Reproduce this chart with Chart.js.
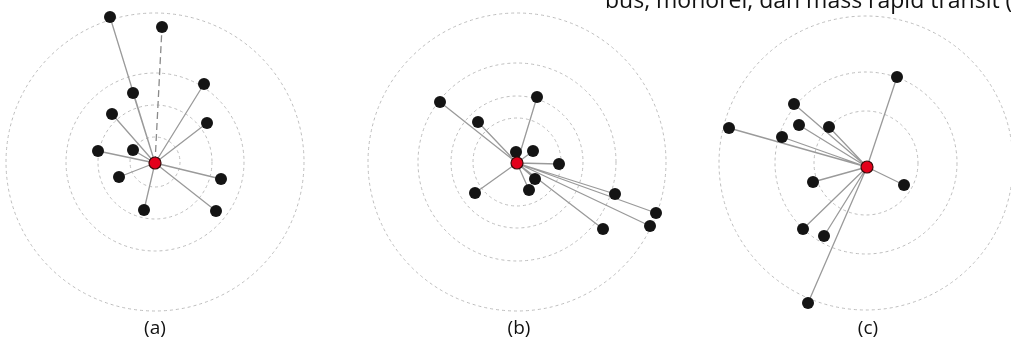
<!DOCTYPE html>
<html>
<head>
<meta charset="utf-8">
<script src="https://cdn.jsdelivr.net/npm/chart.js@4.4.1/dist/chart.umd.min.js"></script>
<style>
  html, body { margin: 0; padding: 0; background: #fff; }
  #wrap { position: relative; width: 1011px; height: 343px; overflow: hidden; }
  .lbl { position: absolute; font-family: "Open Sans", "Liberation Sans", sans-serif; color: #111; white-space: nowrap; }
  .sub { font-size: 19px; top: 314px; transform: translateX(-50%); }
  #top { font-size: 23px; left: 605px; top: -17px; }
</style>
</head>
<body>
<div id="wrap">
  <canvas id="c"></canvas>
  <div id="top" class="lbl">bus, monorel, dan mass rapid transit (</div>
  <div class="lbl sub" style="left:155px">(a)</div>
  <div class="lbl sub" style="left:519px">(b)</div>
  <div class="lbl sub" style="left:868px">(c)</div>
</div>
<script>
// centre node (red) of each panel
centerX = [155, 517, 867]
centerY = [163, 163, 167]

// dotted rings, centre + radii
ringX = [155, 517, 866]
ringY = [162, 162, 163]
ringR = [[149, 89, 57, 25], [149, 99, 66, 44], [147, 91, 52]]

// black nodes, panel (a)
ax = [110, 162, 204, 133, 112, 207, 98, 133, 119, 221, 144, 216]
ay = [17, 27, 84, 93, 114, 123, 151, 150, 177, 179, 210, 211]
// panel (b)
bx = [440, 537, 478, 516, 533, 559, 535, 529, 475, 615, 656, 650, 603]
by = [102, 97, 122, 152, 151, 164, 179, 190, 193, 194, 213, 226, 229]
// panel (c)
cx = [897, 794, 799, 829, 729, 782, 813, 904, 803, 824, 808]
cy = [77, 104, 125, 127, 128, 137, 182, 185, 229, 236, 303]

// spoke drawn dashed in panel (a)
dashedA = [1]

px = [ax, bx, cx]
py = [ay, by, cy]

datasets = []
for (var p = 0; p < 3; p++) {
  var solid = [], dashed = [], nodes = []
  for (var i = 0; i < px[p].length; i++) {
    var seg = (p == 0 && dashedA.indexOf(i) >= 0) ? dashed : solid
    seg.push({x: centerX[p], y: centerY[p]}, {x: px[p][i], y: py[p][i]}, {x: null, y: null})
    nodes.push({x: px[p][i], y: py[p][i]})
  }
  datasets.push({data: solid, showLine: true, spanGaps: false, borderColor: '#9a9a9a', borderWidth: 1.3, pointRadius: 0, order: 3})
  if (dashed.length)
    datasets.push({data: dashed, showLine: true, spanGaps: false, borderColor: '#8a8a8a', borderWidth: 1.3, borderDash: [7, 4], pointRadius: 0, order: 3})
  datasets.push({data: nodes, showLine: false, pointRadius: 6, pointBackgroundColor: '#141414', pointBorderColor: '#141414', pointBorderWidth: 0, order: 2})
  datasets.push({data: [{x: centerX[p], y: centerY[p]}], showLine: false, pointRadius: 6, pointBackgroundColor: '#e3001b', pointBorderColor: '#3a0a0a', pointBorderWidth: 1.2, order: 1})
}

rings = {
  id: 'rings',
  beforeDatasetsDraw(chart) {
    var c = chart.ctx, xs = chart.scales.x, ys = chart.scales.y
    c.save()
    c.strokeStyle = '#bdbdbd'
    c.lineWidth = 1
    c.setLineDash([3, 3])
    for (var p = 0; p < 3; p++) {
      for (var k = 0; k < ringR[p].length; k++) {
        var r = xs.getPixelForValue(ringX[p] + ringR[p][k]) - xs.getPixelForValue(ringX[p])
        c.beginPath()
        c.arc(xs.getPixelForValue(ringX[p]), ys.getPixelForValue(ringY[p]), r, 0, Math.PI * 2)
        c.stroke()
      }
    }
    c.restore()
  }
}

ctx = document.getElementById('c')
chart = new Chart(ctx, {
  type: 'scatter',
  data: {datasets: datasets},
  options: {
    responsive: true,
    maintainAspectRatio: false,
    animation: false,
    layout: {padding: 0, autoPadding: false},
    plugins: {legend: {display: false}, tooltip: {enabled: false}},
    scales: {
      x: {type: 'linear', min: 0, max: 1011, display: false},
      y: {type: 'linear', min: 0, max: 343, reverse: true, display: false}
    }
  },
  plugins: [rings]
})
</script>
</body>
</html>
